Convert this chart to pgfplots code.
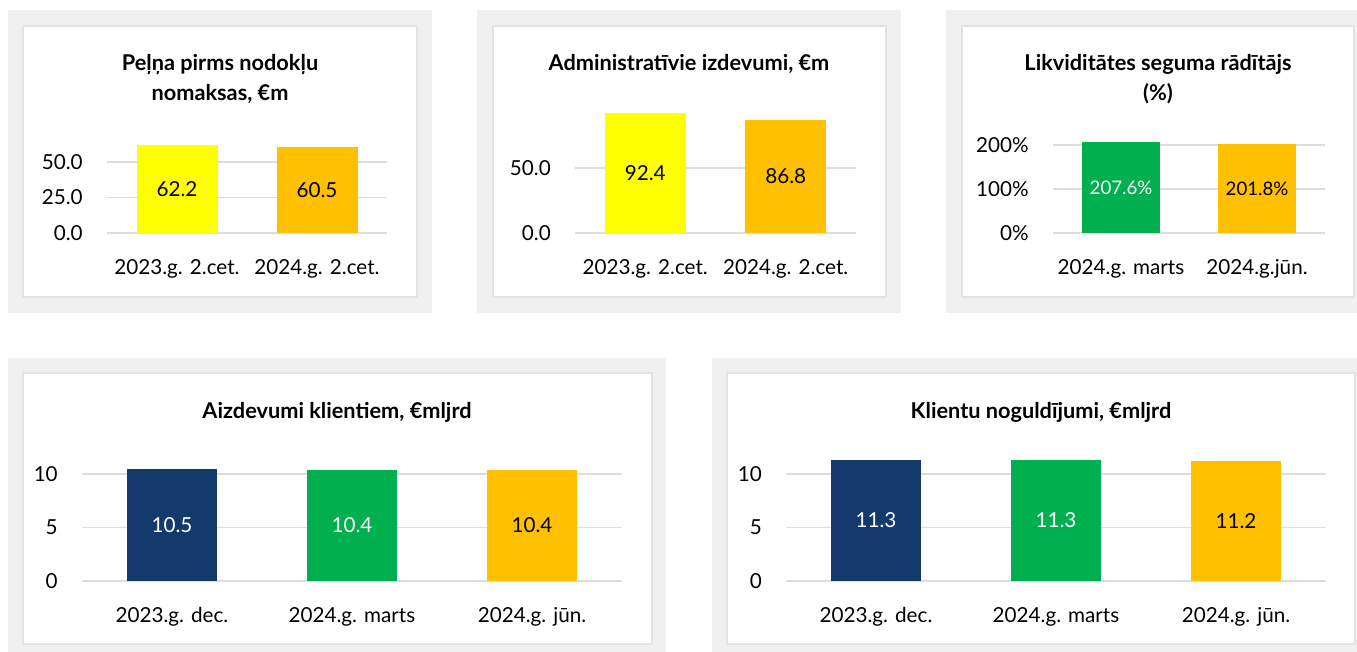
\documentclass[border=0pt]{standalone}
\usepackage{fontspec}
\setmainfont{Lato}
\usepackage{pgfplots}
\usepackage{pgfplotstable}
\pgfplotsset{compat=1.18}

\definecolor{cYel}{HTML}{FFFF00}
\definecolor{cOra}{HTML}{FFC000}
\definecolor{cGre}{HTML}{00B050}
\definecolor{cNav}{HTML}{143A6B}
\definecolor{cGrid}{HTML}{DDDDDD}
\definecolor{cPanel}{HTML}{F0F0F0}
\definecolor{cBorder}{HTML}{E3E3E3}

\newcommand{\fs}{\fontsize{15.5}{18}\selectfont}
\newcommand{\fst}{\fontsize{16.3}{19}\selectfont}
\newcommand{\fsp}{\fontsize{14}{17}\selectfont}

\pgfplotstableread{
x y
0 62.2
1 60.5
}\tA
\pgfplotstableread{
x y
0 92.4
1 86.8
}\tB
\pgfplotstableread{
x y
0 207.6
1 201.8
}\tC
\pgfplotstableread{
x y
0 10.5
1 10.4
2 10.4
}\tD
\pgfplotstableread{
x y
0 11.3
1 11.3
2 11.2
}\tE

\pgfplotsset{
  panel/.style={
    scale only axis,
    anchor=south west,
    axis line style={draw=none},
    major tick length=0pt,
    ymajorgrids, xmajorgrids=false,
    grid style={cGrid, line width=1.1pt},
    ymin=0,
    tick label style={font=\fs, text=black},
    yticklabel style={anchor=east, inner sep=0pt, xshift=-18pt},
    xticklabel style={anchor=north, inner sep=0pt, yshift=-19.5pt},
    clip=false,
    /pgf/number format/assume math mode=true,
  },
  mybar/.style={ybar, bar shift=0pt, draw=none, fill=#1},
  lbl/.style={draw=none, mark=none, point meta=explicit,
    nodes near coords={\pgfmathprintnumber[fixed,precision=1,fixed zerofill]{\pgfplotspointmeta}},
    nodes near coords style={anchor=center, font=\fs, text=#1}},
  lblpct/.style={draw=none, mark=none, point meta=explicit,
    nodes near coords={\pgfmathprintnumber[fixed,precision=1,fixed zerofill]{\pgfplotspointmeta}\%},
    nodes near coords style={anchor=center, font=\fsp, text=#1}},
}

\begin{document}
\begin{tikzpicture}
\begin{scope}[x=0.75pt,y=-0.75pt]
  \useasboundingbox (0,0) rectangle (1357,652);
  \fill[white] (0,0) rectangle (1357,652);
  % top panels
  \fill[cPanel] (8,10) rectangle (432,313);
  \filldraw[fill=white, draw=cBorder, line width=1.1pt] (23,26) rectangle (417,297);
  \fill[cPanel] (477,10) rectangle (901,313);
  \filldraw[fill=white, draw=cBorder, line width=1.1pt] (493,26) rectangle (886,297);
  \fill[cPanel] (946,10) rectangle (1357,313);
  \filldraw[fill=white, draw=cBorder, line width=1.1pt] (962,26) rectangle (1354,297);
  % bottom panels
  \fill[cPanel] (8,358) rectangle (666,652);
  \filldraw[fill=white, draw=cBorder, line width=1.1pt] (23,373) rectangle (652,644);
  \fill[cPanel] (712,358) rectangle (1357,652);
  \filldraw[fill=white, draw=cBorder, line width=1.1pt] (727,373) rectangle (1355,644);
\end{scope}

% Panel 1
\begin{axis}[panel, at={(80.25pt,-174.75pt)}, width=210pt, height=74.55pt,
  xmin=-0.5, xmax=1.5, ymax=70, ytick={0,25,50}, yticklabels={0.0,25.0,50.0},
  xtick={0,1}, xticklabels={2023.g. 2.cet.,2024.g. 2.cet.}]
\addplot[mybar=cYel, bar width=60.75pt, restrict x to domain=-0.2:0.2] table[x=x,y=y]{\tA};
\addplot[mybar=cOra, bar width=60.75pt, restrict x to domain=0.8:1.2] table[x=x,y=y]{\tA};
\addplot[lbl=black] table[x=x, y expr=\thisrow{y}/2, meta=y]{\tA};
\end{axis}

% Panel 2
\begin{axis}[panel, at={(431.25pt,-174.75pt)}, width=210.75pt, height=97.5pt,
  xmin=-0.5, xmax=1.5, ymax=100, ytick={0,50}, yticklabels={0.0,50.0},
  xtick={0,1}, xticklabels={2023.g. 2.cet.,2024.g. 2.cet.}]
\addplot[mybar=cYel, bar width=60.75pt, restrict x to domain=-0.2:0.2] table[x=x,y=y]{\tB};
\addplot[mybar=cOra, bar width=60.75pt, restrict x to domain=0.8:1.2] table[x=x,y=y]{\tB};
\addplot[lbl=black] table[x=x, y expr=\thisrow{y}/2, meta=y]{\tB};
\end{axis}

% Panel 3
\begin{axis}[panel, at={(789.75pt,-174.75pt)}, width=204pt, height=75.9pt,
  xmin=-0.5, xmax=1.5, ymax=230, ytick={0,100,200}, yticklabels={0\%,100\%,200\%},
  xtick={0,1}, xticklabels={2024.g. marts,2024.g.jūn.}]
\addplot[mybar=cGre, bar width=58.5pt, restrict x to domain=-0.2:0.2] table[x=x,y=y]{\tC};
\addplot[mybar=cOra, bar width=58.5pt, restrict x to domain=0.8:1.2] table[x=x,y=y]{\tC};
\addplot[lblpct=white, restrict x to domain=-0.2:0.2] table[x=x, y expr=\thisrow{y}/2, meta=y]{\tC};
\addplot[lblpct=black, restrict x to domain=0.8:1.2] table[x=x, y expr=\thisrow{y}/2, meta=y]{\tC};
\end{axis}

% Panel 4
\begin{axis}[panel, at={(61.5pt,-435.75pt)}, width=405pt, height=96.3pt,
  xmin=-0.5, xmax=2.5, ymax=12, ytick={0,5,10}, yticklabels={0,5,10},
  xtick={0,1,2}, xticklabels={2023.g. dec.,2024.g. marts,2024.g. jūn.}]
\addplot[mybar=cNav, bar width=67.5pt, restrict x to domain=-0.2:0.2] table[x=x,y=y]{\tD};
\addplot[mybar=cGre, bar width=67.5pt, restrict x to domain=0.8:1.2] table[x=x,y=y]{\tD};
\addplot[mybar=cOra, bar width=67.5pt, restrict x to domain=1.8:2.2] table[x=x,y=y]{\tD};
\addplot[lbl=white, restrict x to domain=-0.2:1.2] table[x=x, y expr=\thisrow{y}/2, meta=y]{\tD};
\addplot[lbl=black, restrict x to domain=1.8:2.2] table[x=x, y expr=\thisrow{y}/2, meta=y]{\tD};
\end{axis}

% Panel 5
\begin{axis}[panel, at={(589.5pt,-435.75pt)}, width=405pt, height=96.3pt,
  xmin=-0.5, xmax=2.5, ymax=12, ytick={0,5,10}, yticklabels={0,5,10},
  xtick={0,1,2}, xticklabels={2023.g. dec.,2024.g. marts,2024.g. jūn.}]
\addplot[mybar=cNav, bar width=67.5pt, restrict x to domain=-0.2:0.2] table[x=x,y=y]{\tE};
\addplot[mybar=cGre, bar width=67.5pt, restrict x to domain=0.8:1.2] table[x=x,y=y]{\tE};
\addplot[mybar=cOra, bar width=67.5pt, restrict x to domain=1.8:2.2] table[x=x,y=y]{\tE};
\addplot[lbl=white, restrict x to domain=-0.2:1.2] table[x=x, y expr=\thisrow{y}/2, meta=y]{\tE};
\addplot[lbl=black, restrict x to domain=1.8:2.2] table[x=x, y expr=\thisrow{y}/2, meta=y]{\tE};
\end{axis}

% Titles
\begin{scope}[x=0.75pt,y=-0.75pt, every node/.style={font=\fst\bfseries, inner sep=0pt, anchor=base}]
  \node at (220,71) {Peļņa pirms nodokļu};
  \node at (220,101) {nomaksas, €m};
  \node at (689,71) {Administratīvie izdevumi, €m};
  \node at (1158,71) {Likviditātes seguma rādītājs};
  \node at (1158,101) {(\%)};
  \node at (337,418) {Aizdevumi klientiem, €mljrd};
  \node at (1041,418) {Klientu noguldījumi, €mljrd};
\end{scope}
\end{tikzpicture}
\end{document}
